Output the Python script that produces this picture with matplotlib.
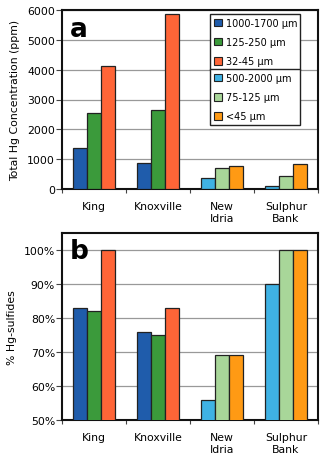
import matplotlib
matplotlib.use("Agg")
import matplotlib.pyplot as plt
from matplotlib.patches import Patch
from matplotlib.ticker import FuncFormatter, FixedLocator
import numpy as np

plt.rcParams['font.family'] = ['DejaVu Sans']

sites = ["King", "Knoxville", "New\nIdria", "Sulphur\nBank"]
legend_labels = ["1000-1700 µm", "125-250 µm", "32-45 µm",
                 "500-2000 µm", "75-125 µm", "<45 µm"]
# fraction 1/2/3 per site (coarse, medium, fine)
conc_coarse = [1390, 860, 360, 110]
conc_medium = [2550, 2640, 690, 440]
conc_fine = [4130, 5870, 780, 830]
pct_coarse = [83, 76, 56, 90]
pct_medium = [82, 75, 69, 100]
pct_fine = [100, 83, 69, 100]

c_dblue, c_green, c_red = "#1f5cab", "#3b9a3b", "#ff6537"
c_lblue, c_lgreen, c_orange = "#3fb2e4", "#a8d699", "#ff9a14"
colors_coarse = [c_dblue, c_dblue, c_lblue, c_lblue]
colors_medium = [c_green, c_green, c_lgreen, c_lgreen]
colors_fine = [c_red, c_red, c_orange, c_orange]

fig = plt.figure(figsize=(3.25, 4.64), dpi=100)
ax1 = fig.add_axes([62/325, (464-190)/464, 256/325, 179/464])
ax2 = fig.add_axes([62/325, (464-421)/464, 256/325, 187/464])

x = np.arange(len(sites))
w = 0.222
fs = 7.8

def draw(ax, a, b, c):
    ax.bar(x - w, a, w, color=colors_coarse, edgecolor="#222222", linewidth=0.9, zorder=3)
    ax.bar(x, b, w, color=colors_medium, edgecolor="#222222", linewidth=0.9, zorder=3)
    ax.bar(x + w, c, w, color=colors_fine, edgecolor="#222222", linewidth=0.9, zorder=3)
    ax.set_xlim(-0.5, 3.5)
    ax.set_xticks(x)
    ax.set_xticklabels(sites, fontsize=fs)
    ax.tick_params(axis='x', length=0, pad=9)
    ax.xaxis.set_minor_locator(FixedLocator([-0.5, 0.5, 1.5, 2.5, 3.5]))
    ax.tick_params(axis='x', which='minor', length=3, width=0.8, color="#444444")
    ax.tick_params(axis='y', labelsize=fs, length=4, width=0.8, color="#444444", pad=1)
    ax.yaxis.grid(True, color="#999999", linewidth=0.9, zorder=0)
    ax.set_axisbelow(True)
    for s in ax.spines.values():
        s.set_linewidth(1.5)
        s.set_color("#111111")

draw(ax1, conc_coarse, conc_medium, conc_fine)
ax1.set_ylim(0, 6000)
ax1.set_yticks(range(0, 6001, 1000))
ax1.set_ylabel("Total Hg Concentration (ppm)", fontsize=fs, labelpad=5)
ax1.text(0.03, 0.965, "a", transform=ax1.transAxes, fontsize=19, fontweight='bold',
         va='top', ha='left')

draw(ax2, pct_coarse, pct_medium, pct_fine)
ax2.set_ylim(50, 105)
ax2.set_yticks(range(50, 101, 10))
ax2.yaxis.set_major_formatter(FuncFormatter(lambda v, p: f"{int(v)}%"))
ax2.set_ylabel("% Hg-sulfides", fontsize=fs, labelpad=5)
ax2.text(0.03, 0.975, "b", transform=ax2.transAxes, fontsize=19, fontweight='bold',
         va='top', ha='left')

cols = [c_dblue, c_green, c_red, c_lblue, c_lgreen, c_orange]
handles = [Patch(facecolor=c, edgecolor="#222222", linewidth=0.8) for c in cols]
common = dict(fontsize=7, frameon=True, fancybox=False, framealpha=1,
              edgecolor="#222222", handlelength=0.8, handleheight=0.8,
              handletextpad=0.4, labelspacing=0.95, borderpad=0.4,
              borderaxespad=0, mode='expand', loc='upper left')
leg1 = ax1.legend(handles[:3], legend_labels[:3],
                  bbox_to_anchor=(0.578, 0.978, 0.352, 0.0), **common)
leg1.get_frame().set_linewidth(1.0)
ax1.add_artist(leg1)
leg2 = ax1.legend(handles[3:], legend_labels[3:],
                  bbox_to_anchor=(0.578, 0.670, 0.352, 0.0), **common)
leg2.get_frame().set_linewidth(1.0)
leg1.set_zorder(5)
leg2.set_zorder(5)

fig.savefig("out.png", dpi=100)
